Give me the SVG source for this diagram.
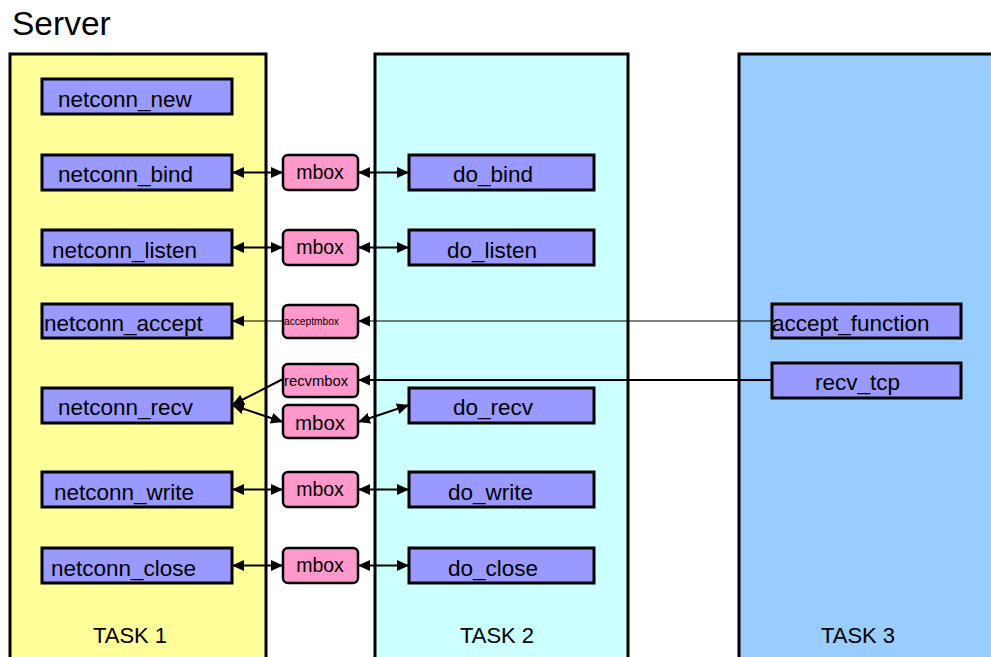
<svg xmlns="http://www.w3.org/2000/svg" width="991" height="657" viewBox="0 0 991 657">
  <style>
    text { font-family: "Liberation Sans", Arial, sans-serif; fill: #000; }
    .panel { stroke: #000; stroke-width: 3; }
    .fn { fill: #9999FF; stroke: #000; stroke-width: 3; }
    .mb { fill: #FF99CC; stroke: #000; stroke-width: 2.5; }
    .fnt { font-size: 22.5px; }
    .mbt { font-size: 19.5px; text-anchor: middle; }
    .task { font-size: 22px; text-anchor: middle; }
    .wire { stroke: #000; stroke-width: 2; fill: none; }
    .thin { stroke: #000; stroke-width: 1; fill: none; }
  </style>
  <defs>
    <marker id="ah" viewBox="0 0 12 12" refX="12" refY="6" markerWidth="12" markerHeight="12" markerUnits="userSpaceOnUse" orient="auto-start-reverse">
      <path d="M0,0.5 L12,6 L0,11.5 Z" fill="#000"/>
    </marker>
  </defs>

  <rect width="991" height="657" fill="#fff"/>

  <text x="12" y="35" style="font-size:33.5px">Server</text>

  <!-- task panels -->
  <g id="task1">
    <rect class="panel" x="10" y="54" width="256" height="620" fill="#FFFF99"/>
    <text class="task" x="130" y="643">TASK 1</text>
  </g>
  <g id="task2">
    <rect class="panel" x="375" y="54" width="253" height="620" fill="#CCFFFF"/>
    <text class="task" x="497" y="643">TASK 2</text>
  </g>
  <g id="task3">
    <rect class="panel" x="739" y="54" width="270" height="620" fill="#99CCFF"/>
    <text class="task" x="858" y="643">TASK 3</text>
  </g>

  <!-- task 1 API calls -->
  <g id="netconn_new"><rect class="fn" x="42" y="79" width="190" height="35"/><text class="fnt" x="58" y="107">netconn_new</text></g>
  <g id="netconn_bind"><rect class="fn" x="42" y="155" width="190" height="35"/><text class="fnt" x="58" y="182">netconn_bind</text></g>
  <g id="netconn_listen"><rect class="fn" x="42" y="230" width="190" height="35"/><text class="fnt" x="52" y="258">netconn_listen</text></g>
  <g id="netconn_accept"><rect class="fn" x="42" y="304" width="190" height="34"/><text class="fnt" x="44" y="331">netconn_accept</text></g>
  <g id="netconn_recv"><rect class="fn" x="42" y="388" width="190" height="35"/><text class="fnt" x="58" y="415">netconn_recv</text></g>
  <g id="netconn_write"><rect class="fn" x="42" y="472" width="190" height="35"/><text class="fnt" x="54" y="500">netconn_write</text></g>
  <g id="netconn_close"><rect class="fn" x="42" y="548" width="190" height="35"/><text class="fnt" x="51" y="576">netconn_close</text></g>

  <!-- mailboxes -->
  <g id="mbox_bind"><rect class="mb" x="283" y="155" width="75" height="35" rx="5"/><text class="mbt" x="320" y="179">mbox</text></g>
  <g id="mbox_listen"><rect class="mb" x="283" y="230" width="75" height="35" rx="5"/><text class="mbt" x="320" y="254">mbox</text></g>
  <g id="acceptmbox"><rect class="mb" x="283" y="305" width="75" height="33" rx="5"/><text x="284" y="325" style="font-size:10.2px">acceptmbox</text></g>
  <g id="recvmbox"><rect class="mb" x="283" y="364" width="75" height="33" rx="5"/><text x="284" y="386" style="font-size:14.8px">recvmbox</text></g>
  <g id="mbox_recv"><rect class="mb" x="283" y="405" width="75" height="33" rx="5"/><text class="mbt" x="320" y="430" style="font-size:20.5px">mbox</text></g>
  <g id="mbox_write"><rect class="mb" x="283" y="472" width="75" height="35" rx="5"/><text class="mbt" x="320" y="496">mbox</text></g>
  <g id="mbox_close"><rect class="mb" x="283" y="548" width="75" height="35" rx="5"/><text class="mbt" x="320" y="572">mbox</text></g>

  <!-- task 2 handlers -->
  <g id="do_bind"><rect class="fn" x="409" y="155" width="185" height="35"/><text class="fnt" x="453" y="182">do_bind</text></g>
  <g id="do_listen"><rect class="fn" x="409" y="230" width="185" height="35"/><text class="fnt" x="447" y="258">do_listen</text></g>
  <g id="do_recv"><rect class="fn" x="409" y="388" width="185" height="35"/><text class="fnt" x="453" y="415">do_recv</text></g>
  <g id="do_write"><rect class="fn" x="409" y="472" width="185" height="35"/><text class="fnt" x="448" y="500">do_write</text></g>
  <g id="do_close"><rect class="fn" x="409" y="548" width="185" height="35"/><text class="fnt" x="448" y="576">do_close</text></g>

  <!-- task 3 callbacks -->
  <g id="accept_function"><rect class="fn" x="772" y="304" width="189" height="34"/><text class="fnt" x="772" y="331">accept_function</text></g>
  <g id="recv_tcp"><rect class="fn" x="772" y="363" width="189" height="35"/><text class="fnt" x="815" y="390">recv_tcp</text></g>

  <!-- connectors -->
  <g id="connectors">
    <line class="wire" x1="232" y1="172.5" x2="283" y2="172.5" marker-start="url(#ah)" marker-end="url(#ah)"/>
    <line class="wire" x1="358" y1="172.5" x2="409" y2="172.5" marker-start="url(#ah)" marker-end="url(#ah)"/>
    <line class="wire" x1="232" y1="247.5" x2="283" y2="247.5" marker-start="url(#ah)" marker-end="url(#ah)"/>
    <line class="wire" x1="358" y1="247.5" x2="409" y2="247.5" marker-start="url(#ah)" marker-end="url(#ah)"/>
    <line class="thin" x1="772" y1="321" x2="358" y2="321" marker-end="url(#ah)"/>
    <line class="thin" x1="283" y1="321" x2="232" y2="321" marker-end="url(#ah)"/>
    <line class="wire" x1="772" y1="380" x2="358" y2="380" marker-end="url(#ah)"/>
    <line class="wire" x1="283" y1="379" x2="232" y2="405" marker-end="url(#ah)"/>
    <line class="wire" x1="232" y1="405" x2="283" y2="422" marker-start="url(#ah)" marker-end="url(#ah)"/>
    <line class="wire" x1="358" y1="422" x2="409" y2="405" marker-start="url(#ah)" marker-end="url(#ah)"/>
    <line class="wire" x1="232" y1="489.5" x2="283" y2="489.5" marker-start="url(#ah)" marker-end="url(#ah)"/>
    <line class="wire" x1="358" y1="489.5" x2="409" y2="489.5" marker-start="url(#ah)" marker-end="url(#ah)"/>
    <line class="wire" x1="232" y1="565.5" x2="283" y2="565.5" marker-start="url(#ah)" marker-end="url(#ah)"/>
    <line class="wire" x1="358" y1="565.5" x2="409" y2="565.5" marker-start="url(#ah)" marker-end="url(#ah)"/>
  </g>
</svg>
